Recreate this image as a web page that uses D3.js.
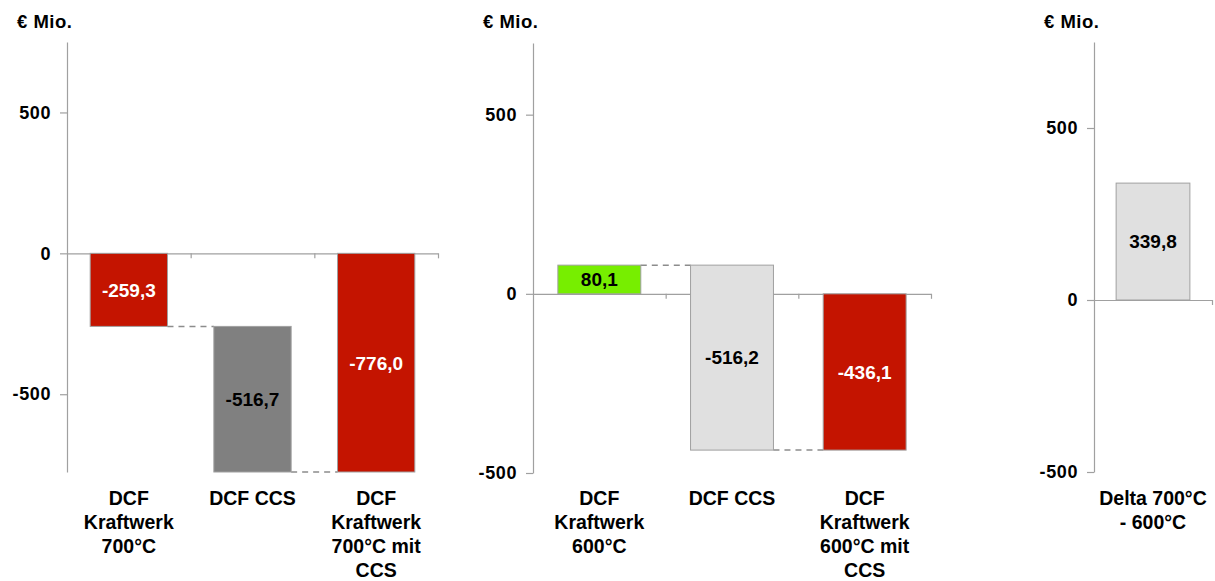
<!DOCTYPE html>
<html>
<head>
<meta charset="utf-8">
<script src="https://cdn.jsdelivr.net/npm/d3@7/dist/d3.min.js"></script>
<style>
  html, body { margin: 0; padding: 0; background: #fff; }
  svg { display: block; font-family: "Liberation Sans", Arial, sans-serif; font-weight: bold; }
</style>
</head>
<body>
<svg id="chart" width="1215" height="581"></svg>
<script>
// Waterfall: 700°C plant
const cats700 = [["DCF", "Kraftwerk", "700°C"], ["DCF CCS"], ["DCF", "Kraftwerk", "700°C mit", "CCS"]];
const values700 = [-259.3, -516.7, -776.0];
const kinds700 = ["step", "step", "total"];
const colors700 = ["#C41400", "#808080", "#C41400"];
const labelColors700 = ["#fff", "#000", "#fff"];

// Waterfall: 600°C plant
const cats600 = [["DCF", "Kraftwerk", "600°C"], ["DCF CCS"], ["DCF", "Kraftwerk", "600°C mit", "CCS"]];
const values600 = [80.1, -516.2, -436.1];
const kinds600 = ["step", "step", "total"];
const colors600 = ["#77EE00", "#E0E0E0", "#C41400"];
const labelColors600 = ["#000", "#000", "#fff"];

// Difference between both plant types
const catsDelta = [["Delta 700°C", "- 600°C"]];
const valuesDelta = [339.8];
const kindsDelta = ["total"];
const colorsDelta = ["#E0E0E0"];
const labelColorsDelta = ["#000"];

const yTicks = [-500, 0, 500];
const unitLabel = "€ Mio.";

// German number style with a plain hyphen for negatives
const hyphen = s => s.replace("\u2212", "-");
const fmt = v => hyphen(d3.format(".1f")(v)).replace(".", ",");
const fmtTick = v => hyphen(d3.format("d")(v));

const svg = d3.select("#chart");
const axisColor = "#A0A0A0";

const panels = [
  { cats: cats700, values: values700, kinds: kinds700, colors: colors700, labelColors: labelColors700,
    x0: 67, x1: 438, yTop: 42, yBot: 472, domain: [-776, 750] },
  { cats: cats600, values: values600, kinds: kinds600, colors: colors600, labelColors: labelColors600,
    x0: 533, x1: 931, yTop: 43, yBot: 473, domain: [-500, 700] },
  { cats: catsDelta, values: valuesDelta, kinds: kindsDelta, colors: colorsDelta, labelColors: labelColorsDelta,
    x0: 1094, x1: 1212, yTop: 42, yBot: 472, domain: [-500, 750] }
];

panels.forEach(p => {
  const g = svg.append("g");
  const y = d3.scaleLinear().domain(p.domain).range([p.yBot, p.yTop]);
  const idx = p.cats.map((c, i) => i);
  const x = d3.scaleBand().domain(idx).range([p.x0, p.x1]).paddingInner(0.375).paddingOuter(0.1875);

  // waterfall segments
  let run = 0;
  const segs = p.values.map((v, i) => {
    let a, b;
    if (p.kinds[i] === "total") { a = 0; b = v; run = v; }
    else { a = run; b = run + v; run = b; }
    return { i, v, a, b };
  });

  // value axis
  const yAxis = d3.axisLeft(y).tickValues(yTicks).tickSize(7).tickSizeOuter(0).tickPadding(9)
    .tickFormat(fmtTick);
  const ya = g.append("g").attr("transform", `translate(${p.x0},0)`).call(yAxis);
  ya.select(".domain").attr("stroke", axisColor).attr("stroke-width", 1.2);
  ya.selectAll(".tick line").attr("stroke", axisColor).attr("stroke-width", 1.2);
  ya.selectAll(".tick text").attr("fill", "#000").style("font-size", "18px")
    .style("font-family", "'Liberation Sans', Arial, sans-serif").style("font-weight", "bold")
    .style("letter-spacing", "0.6px");

  // category baseline at zero with boundary ticks
  const xb = d3.scaleLinear().domain([0, p.cats.length]).range([p.x0, p.x1]);
  const xAxis = d3.axisBottom(xb).tickValues(d3.range(1, p.cats.length + 1)).tickSize(5)
    .tickSizeOuter(0).tickFormat("");
  const xa = g.append("g").attr("transform", `translate(0,${y(0)})`).call(xAxis);
  xa.select(".domain").attr("stroke", axisColor).attr("stroke-width", 1.2);
  xa.selectAll(".tick line").attr("stroke", axisColor).attr("stroke-width", 1.2);

  // connectors between consecutive bars
  for (let i = 0; i < segs.length - 1; i++) {
    const level = segs[i].b;
    g.append("line")
      .attr("x1", x(i) + x.bandwidth()).attr("x2", x(i + 1))
      .attr("y1", y(level)).attr("y2", y(level))
      .attr("stroke", "#8C8C8C").attr("stroke-width", 1.5)
      .attr("stroke-dasharray", "6,5");
  }

  // bars
  g.selectAll("rect.bar").data(segs).join("rect")
    .attr("class", "bar")
    .attr("x", d => x(d.i))
    .attr("width", x.bandwidth())
    .attr("y", d => y(Math.max(d.a, d.b)))
    .attr("height", d => Math.abs(y(d.a) - y(d.b)))
    .attr("fill", d => p.colors[d.i])
    .attr("stroke", axisColor).attr("stroke-width", 1);

  // value labels
  g.selectAll("text.val").data(segs).join("text")
    .attr("class", "val")
    .attr("x", d => x(d.i) + x.bandwidth() / 2)
    .attr("y", d => (y(d.a) + y(d.b)) / 2)
    .attr("dy", "0.36em")
    .attr("text-anchor", "middle")
    .attr("fill", d => p.labelColors[d.i])
    .style("font-size", "19px")
    .text(d => fmt(d.v));

  // category labels
  p.cats.forEach((lines, i) => {
    const t = g.append("text")
      .attr("x", x(i) + x.bandwidth() / 2)
      .attr("y", 505)
      .attr("text-anchor", "middle")
      .attr("fill", "#000")
      .style("font-size", "19.5px");
    lines.forEach((ln, k) => {
      t.append("tspan").attr("x", x(i) + x.bandwidth() / 2).attr("dy", k === 0 ? 0 : 24).text(ln);
    });
  });

  // unit label
  g.append("text")
    .attr("x", p.x0 - 50).attr("y", 28)
    .attr("fill", "#000")
    .style("font-size", "18.5px")
    .style("letter-spacing", "0.5px")
    .text(unitLabel);
});
</script>
</body>
</html>
